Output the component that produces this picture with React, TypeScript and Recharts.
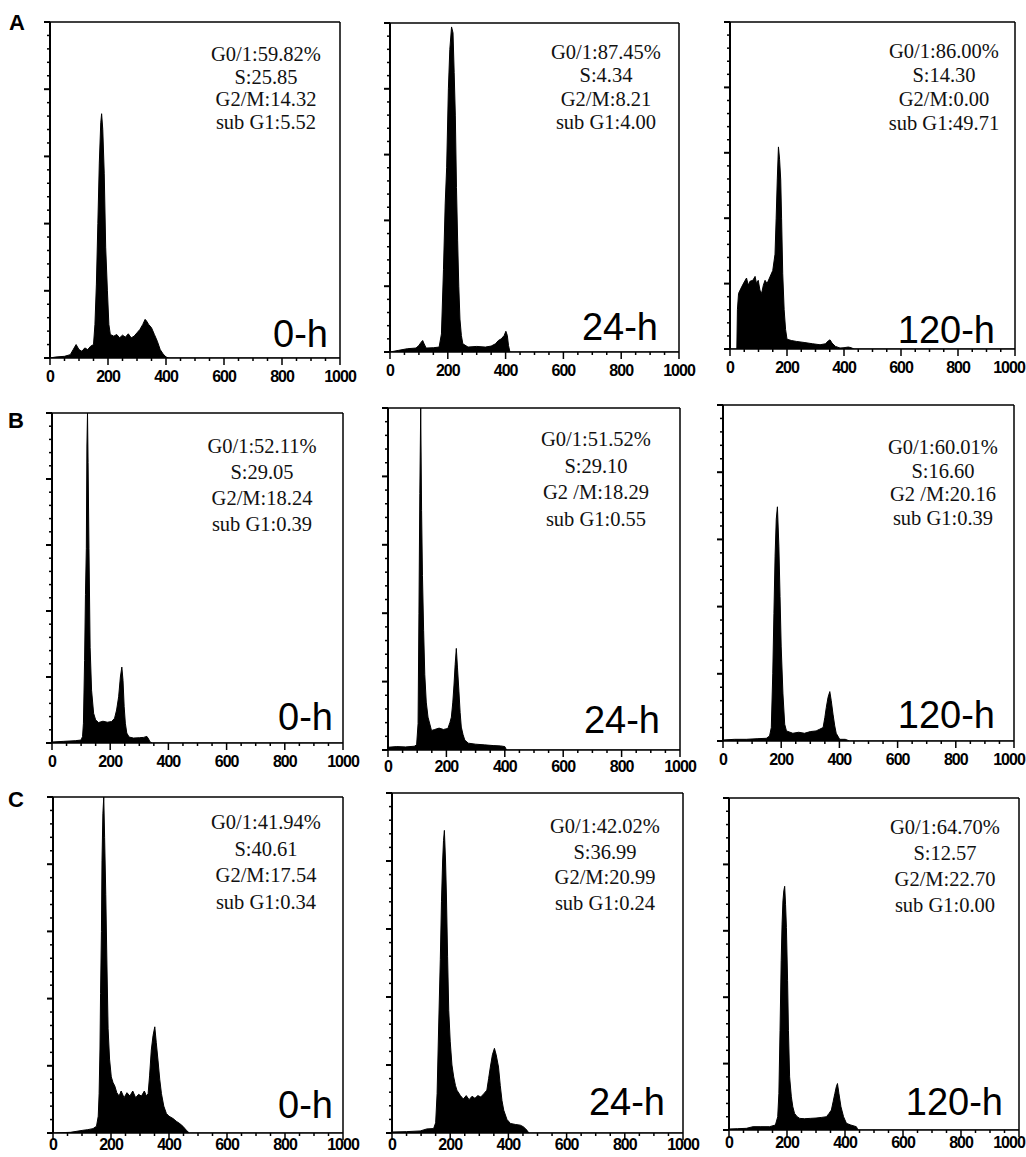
import React from 'react'
import { AreaChart, Area, XAxis, YAxis } from 'recharts'

type Pt = [number, number]

// DNA content channel vs. relative cell count (% of the y range)
const A_0h: Pt[] = [
  [0, 0], [20, 0.3], [50, 0.5], [70, 1], [80, 2.5], [90, 4], [100, 2.5], [110, 2], [120, 3],
  [130, 2.5], [140, 3.5], [150, 4], [155, 10], [160, 22], [165, 40], [170, 58], [175, 70],
  [178, 72.7], [182, 68], [187, 55], [192, 33], [198, 20], [203, 10], [208, 7], [220, 6.5],
  [230, 7], [240, 6], [250, 6.8], [260, 6.2], [270, 7.2], [280, 6], [290, 6.5], [300, 7.5],
  [310, 8.5], [320, 10], [328, 11.5], [333, 11], [340, 10], [350, 9], [360, 7], [370, 5],
  [380, 2.5], [390, 1.2], [400, 0.3], [410, 0], [1000, 0],
]
const A_24h: Pt[] = [
  [0, 0], [30, 0.5], [60, 1], [90, 1.2], [100, 2], [108, 3], [113, 3.5], [118, 2.5], [125, 1.2],
  [150, 1.3], [170, 1.5], [178, 5.5], [185, 25], [191, 45], [196, 56], [202, 80], [207, 92],
  [213, 98.8], [218, 97], [222, 85], [226, 72], [230, 50], [234, 34], [238, 20], [242, 10],
  [247, 5], [252, 2.5], [270, 1.5], [300, 1.7], [330, 1.5], [350, 1.8], [365, 2.5], [375, 3.5],
  [385, 4], [395, 5], [401, 6.3], [406, 5], [410, 2], [415, 0], [1000, 0],
]
const A_120h: Pt[] = [
  [0, 0], [24, 0], [26, 12], [30, 17], [41, 19], [50, 20.5], [58, 21.7], [64, 19.5], [70, 20.7],
  [80, 21], [88, 22.2], [93, 20], [99, 21], [105, 18], [111, 17], [117, 19.5], [123, 21],
  [130, 20], [140, 22], [150, 24], [158, 29], [162, 40], [166, 52], [170, 61.8], [174, 58],
  [178, 51.7], [181, 40], [185, 23], [190, 12], [195, 6], [200, 3], [215, 2.6], [234, 2.3],
  [260, 2], [290, 1.6], [316, 1.3], [335, 1.6], [345, 2.5], [351, 2.8], [358, 1.8], [370, 0.8],
  [386, 0.3], [400, 0.4], [415, 0.6], [425, 0.4], [435, 0], [1000, 0],
]
const B_0h: Pt[] = [
  [0, 0.3], [40, 0.5], [80, 0.7], [100, 0.9], [105, 2], [108, 6], [112, 25], [115, 45], [118, 59],
  [120, 90], [122, 100], [124, 85], [127, 59], [131, 29], [136, 16], [143, 9], [150, 7],
  [160, 6.2], [175, 6.6], [190, 6.3], [205, 6.5], [215, 7.5], [222, 10], [229, 14], [235, 20],
  [240, 23], [244, 19], [248, 11], [252, 6], [257, 3], [265, 1.8], [280, 1.5], [300, 1.6],
  [315, 1.7], [326, 2], [332, 1.2], [337, 0.3], [345, 0], [1000, 0],
]
const B_24h: Pt[] = [
  [0, 0.8], [30, 1], [60, 0.9], [90, 1.1], [98, 1.5], [103, 7.7], [106, 40], [109, 75], [112, 100],
  [115, 70], [118, 51], [122, 35], [126, 22], [131, 14], [137, 9.6], [149, 5.7], [160, 6],
  [175, 6.4], [190, 6], [205, 6.3], [212, 8], [217, 9.6], [222, 14], [226, 19], [230, 25],
  [234, 29.7], [238, 24], [243, 17], [247, 11], [251, 6.7], [257, 4.5], [263, 2.9], [275, 2],
  [300, 1.7], [330, 1.5], [360, 1.3], [385, 1.2], [400, 1], [406, 0], [1000, 0],
]
const B_120h: Pt[] = [
  [0, 0.3], [40, 0.5], [80, 0.5], [120, 0.7], [149, 0.8], [160, 1.5], [166, 4], [171, 20],
  [175, 38], [179, 55], [183, 66], [187, 69.7], [192, 58], [196, 43], [200, 28], [206, 14],
  [212, 5], [218, 3], [240, 2.3], [260, 2.6], [280, 2.3], [300, 2.8], [320, 3], [332, 3.5],
  [344, 4], [350, 7], [355, 10], [361, 13], [367, 14.7], [372, 12], [378, 8], [384, 4.5],
  [389, 2.3], [401, 0.5], [420, 0.5], [435, 0], [1000, 0],
]
const C_0h: Pt[] = [
  [0, 0], [60, 0.2], [103, 0.8], [120, 1], [138, 1.3], [150, 2], [156, 5], [159, 11.7], [162, 25],
  [164, 41.5], [167, 60], [169, 81], [172, 95], [175, 100], [178, 88], [182, 71], [186, 50],
  [190, 31], [195, 22], [201, 16.7], [207, 15], [213, 14], [220, 12], [228, 11], [235, 12.5],
  [245, 10.5], [255, 12], [265, 11], [275, 12.5], [285, 10.5], [295, 11.5], [305, 11],
  [315, 12.5], [322, 11], [328, 11.7], [333, 17], [339, 24.7], [345, 29], [351, 31.6], [356, 27],
  [362, 21.7], [368, 16], [374, 11.7], [382, 8], [391, 5.8], [400, 5], [414, 4.3], [425, 3.5],
  [437, 2.8], [448, 2], [460, 0.8], [470, 0], [1000, 0],
]
const C_24h: Pt[] = [
  [0, 0.3], [50, 0.4], [97, 0.6], [120, 1.2], [143, 1.3], [150, 3], [155, 11.6], [160, 30],
  [166, 51], [170, 68], [174, 80], [177, 86], [180, 89], [184, 80], [187, 70], [191, 52],
  [195, 36], [200, 27], [206, 20], [212, 16.5], [218, 14], [223, 12.6], [235, 11], [245, 10],
  [255, 11], [265, 9.8], [275, 10.8], [285, 10.2], [295, 11], [305, 10.6], [315, 11.5],
  [326, 12.6], [332, 16], [338, 19.4], [345, 23], [352, 24.9], [358, 23], [366, 19.4], [372, 14],
  [378, 9.5], [384, 6.7], [395, 4], [407, 2.8], [425, 2.5], [441, 2.3], [452, 1.8], [464, 0.8],
  [470, 0], [1000, 0],
]
const C_120h: Pt[] = [
  [0, 0.3], [30, 0.4], [60, 0.5], [83, 1], [110, 1], [140, 1], [160, 1.5], [168, 4], [172, 11],
  [176, 30], [180, 51], [183, 62], [186, 69], [189, 72], [192, 73.4], [195, 68], [198, 61],
  [202, 45], [205, 30], [209, 16], [215, 10], [220, 7], [226, 5], [235, 4], [244, 3.5],
  [260, 3.4], [280, 3.5], [300, 3.6], [320, 3.8], [336, 4], [345, 5], [353, 6], [359, 8.5],
  [365, 11], [370, 13], [374, 14], [379, 11], [386, 7], [395, 4], [405, 2], [420, 1.5],
  [439, 1], [445, 0], [1000, 0],
]

const X_TICKS = [0, 50, 100, 150, 200, 250, 300, 350, 400, 450, 500, 550, 600, 650, 700, 750, 800, 850, 900, 950, 1000]
const X_LABELS = [0, 200, 400, 600, 800, 1000]
const Y_TICKS = [0, 4, 8, 12, 16, 20, 24, 28, 32, 36, 40, 44, 48, 52, 56, 60, 64, 68, 72, 76, 80, 84, 88, 92, 96, 100]
const Y_MAJOR = [0, 20, 40, 60, 80, 100]

const ROW_LABELS = ['A', 'B', 'C']
const TIME_LABELS = ['0-h', '24-h', '120-h']

const STATS = [
  ['G0/1:59.82%', 'S:25.85', 'G2/M:14.32', 'sub G1:5.52'],
  ['G0/1:87.45%', 'S:4.34', 'G2/M:8.21', 'sub G1:4.00'],
  ['G0/1:86.00%', 'S:14.30', 'G2/M:0.00', 'sub G1:49.71'],
  ['G0/1:52.11%', 'S:29.05', 'G2/M:18.24', 'sub G1:0.39'],
  ['G0/1:51.52%', 'S:29.10', 'G2 /M:18.29', 'sub G1:0.55'],
  ['G0/1:60.01%', 'S:16.60', 'G2 /M:20.16', 'sub G1:0.39'],
  ['G0/1:41.94%', 'S:40.61', 'G2/M:17.54', 'sub G1:0.34'],
  ['G0/1:42.02%', 'S:36.99', 'G2/M:20.99', 'sub G1:0.24'],
  ['G0/1:64.70%', 'S:12.57', 'G2/M:22.70', 'sub G1:0.00'],
]
const SERIES = [A_0h, A_24h, A_120h, B_0h, B_24h, B_120h, C_0h, C_24h, C_120h]

// layout: plot box [left, top, right, bottom], stats block [centerX, firstBaseline, lineGap], time label [right, baseline]
const BOXES = [
  [50, 22, 340, 358], [390, 23, 679, 352], [730, 22, 1015, 349],
  [52, 413, 343, 743], [388, 408, 680, 750], [723, 405, 1014, 741],
  [53, 797, 343, 1133], [392, 793, 683, 1133], [729, 798, 1019, 1130],
]
const LABEL_DROP = [24, 24, 24, 24, 22, 24, 17, 17, 18]
const STAT_POS = [
  [266, 61, 22.5], [606, 59, 23.3], [944, 58, 24],
  [262, 453, 26], [596, 446, 26.5], [943, 454, 23.5],
  [266, 829, 26.5], [605, 833, 25.5], [945, 834, 26],
]
const TIME_POS = [
  [328, 347], [658, 340], [995, 343],
  [333, 730], [660, 733], [995, 728],
  [333, 1118], [665, 1115], [1003, 1115],
]
const LETTER_POS = [[9, 30], [8, 428], [8, 807]]
const PAGE_W = 1026

const TICK_FONT = "'Liberation Sans', Arial, sans-serif"
const STAT_FONT = "'Liberation Serif', 'Times New Roman', serif"
const LABEL_FONT = "'Liberation Sans', Arial, sans-serif"

function XTick(props: any) {
  const { x, y, payload, pageRight, drop } = props
  const major = X_LABELS.includes(payload.value)
  const label = String(payload.value)
  const half = label.length * 4
  // keep the rightmost label on the page
  const lx = Math.min(x, pageRight - half - 1)
  return (
    <g>
      <line x1={x} y1={y} x2={x} y2={y + (major ? 7 : 3)} stroke="#000" strokeWidth={1.5} />
      {major && (
        <text
          x={lx}
          y={y + drop}
          textAnchor="middle"
          letterSpacing={-1}
          fontFamily={TICK_FONT}
          fontWeight="bold"
          fontSize={16}
          fill="#000"
        >
          {label}
        </text>
      )}
    </g>
  )
}

function YTick(props: any) {
  const { x, y, payload } = props
  const major = Y_MAJOR.includes(payload.value)
  return <line x1={x} y1={y} x2={x - (major ? 6 : 3)} y2={y} stroke="#000" strokeWidth={major ? 2 : 1.5} />
}

function Histogram({ data, box, drop }: { data: Pt[]; box: number[]; drop: number }) {
  const [L, T, R, B] = box
  const ml = 10
  const mt = 3
  const mr = 23
  const xh = 30
  const rows = data.map(([x, y]) => ({ x, y }))
  const frame = { stroke: '#000', strokeWidth: 1.5 }
  const left = L - ml
  return (
    <div style={{ position: 'absolute', left, top: T - mt - 1 }}>
      <AreaChart
        width={R - L + ml + mr + 1}
        height={B - T + mt + 1 + xh}
        data={rows}
        margin={{ top: mt, right: mr, left: 0, bottom: 0 }}
      >
        <XAxis
          dataKey="x"
          type="number"
          domain={[0, 1000]}
          ticks={X_TICKS}
          interval={0}
          tickSize={0}
          tickMargin={0}
          tickLine={false}
          height={xh}
          axisLine={frame}
          tick={(p: any) => <XTick {...p} pageRight={PAGE_W - left} drop={drop} />}
          allowDataOverflow
        />
        <XAxis
          xAxisId="top"
          orientation="top"
          type="number"
          domain={[0, 1000]}
          ticks={X_LABELS}
          height={1}
          tick={false}
          tickLine={false}
          axisLine={frame}
        />
        <YAxis
          type="number"
          domain={[0, 100]}
          ticks={Y_TICKS}
          interval={0}
          width={ml}
          tickSize={0}
          tickMargin={0}
          tickLine={false}
          axisLine={{ stroke: '#000', strokeWidth: 2 }}
          tick={(p: any) => <YTick {...p} />}
          allowDataOverflow
        />
        <YAxis
          yAxisId="right"
          orientation="right"
          type="number"
          domain={[0, 100]}
          ticks={Y_MAJOR}
          width={1}
          tick={false}
          tickLine={false}
          axisLine={frame}
        />
        <Area
          type="linear"
          dataKey="y"
          stroke="#000"
          strokeWidth={1}
          fill="#000"
          fillOpacity={1}
          dot={false}
          activeDot={false}
          isAnimationActive={false}
        />
      </AreaChart>
    </div>
  )
}

export default function App() {
  return (
    <div style={{ position: 'absolute', left: 0, top: 0, width: PAGE_W, height: 1157, background: '#fff', overflow: 'hidden' }}>
      {SERIES.map((s, i) => (
        <Histogram key={i} data={s} box={BOXES[i]} drop={LABEL_DROP[i]} />
      ))}
      <svg width={PAGE_W} height={1157} style={{ position: 'absolute', left: 0, top: 0, pointerEvents: 'none' }}>
        {ROW_LABELS.map((r, i) => (
          <text key={r} x={LETTER_POS[i][0]} y={LETTER_POS[i][1]} fontFamily={LABEL_FONT} fontWeight="bold" fontSize={22} fill="#000">
            {r}
          </text>
        ))}
        {STATS.map((lines, i) => (
          <text key={i} textAnchor="middle" fontFamily={STAT_FONT} fontSize={20.5} fill="#111">
            {lines.map((t, j) => (
              <tspan key={j} x={STAT_POS[i][0]} y={STAT_POS[i][1] + j * STAT_POS[i][2]}>
                {t}
              </tspan>
            ))}
          </text>
        ))}
        {TIME_POS.map((p, i) => (
          <text key={i} x={p[0]} y={p[1]} textAnchor="end" fontFamily={LABEL_FONT} fontSize={38} fill="#000">
            {TIME_LABELS[i % 3]}
          </text>
        ))}
      </svg>
    </div>
  )
}
